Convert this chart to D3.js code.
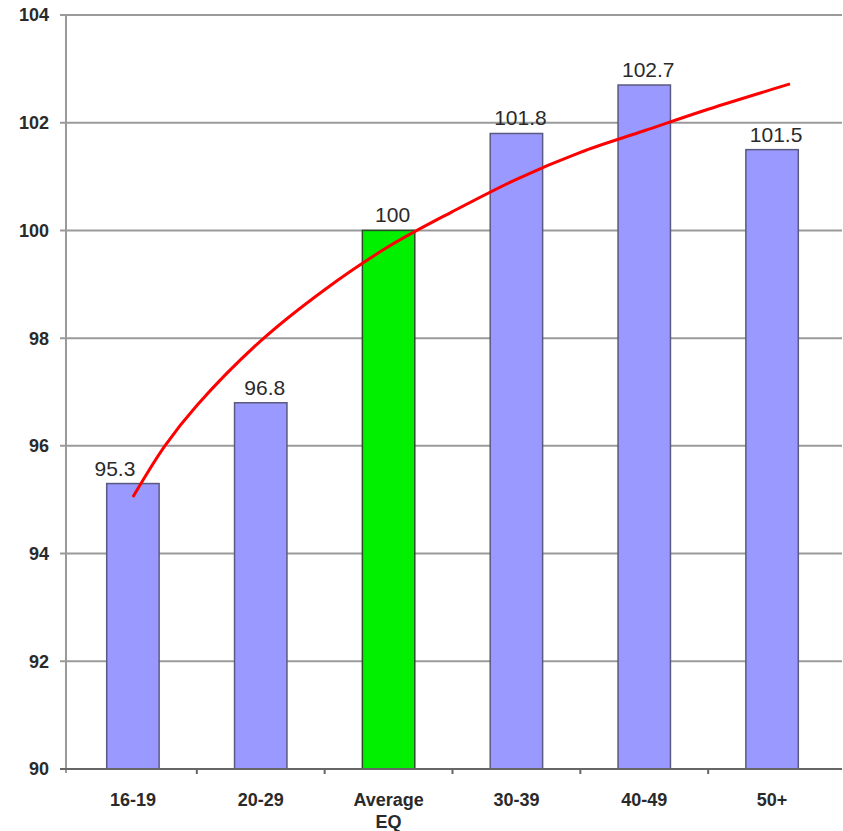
<!DOCTYPE html>
<html>
<head>
<meta charset="UTF-8">
<title>EQ by age</title>
<style>
html, body {
    margin: 0;
    padding: 0;
    background-color: #fff;
}
svg text {
    font-family: "Liberation Sans", Arial, sans-serif;
    fill: #2a2a2a;
}
.grid line {
    stroke: #9a9a9a;
    stroke-width: 2;
}
.yLabel, .xLabel {
    font-weight: bold;
    font-size: 18px;
}
.valueLabel {
    font-size: 21px;
}
.trend {
    fill: none;
    stroke: #ff0000;
    stroke-width: 3;
}
</style>
</head>
<body>
<div class="chart"></div>
<script src="https://cdn.jsdelivr.net/npm/d3@7/dist/d3.min.js"></script>
<script>
// data
let categories = ['16-19', '20-29', 'Average\nEQ', '30-39', '40-49', '50+'];
let values = [95.3, 96.8, 100, 101.8, 102.7, 101.5];
let yTicks = [90, 92, 94, 96, 98, 100, 102, 104];

// red trend curve (position in category steps from the first bar)
let trendPos = [0, 0.25, 0.5, 1, 1.5, 2, 2.5, 3, 3.5, 4, 4.5, 5.14];
let trendVal = [95.05, 96.0, 96.75, 97.95, 98.9, 99.7, 100.35, 100.95, 101.45, 101.85, 102.25, 102.72];

let width = 843, height = 831;
let plotLeft = 66, plotRight = 842, plotTop = 15, plotBottom = 769;

let svg = d3.select('.chart').append('svg')
    .attr('width', width)
    .attr('height', height);

let yScale = d3.scaleLinear()
    .domain([90, 104])
    .range([plotBottom, plotTop]);

let xScale = d3.scaleBand()
    .domain(categories)
    .range([69, 836])
    .paddingInner(0.59)
    .paddingOuter(0.295);

let step = xScale.step();
let center = (c) => xScale(c) + xScale.bandwidth() / 2;

// gridlines
svg.append('g')
    .attr('class', 'grid')
    .selectAll('line')
    .data(yTicks)
    .enter().append('line')
    .attr('x1', plotLeft - 6)
    .attr('x2', plotRight)
    .attr('y1', (d) => yScale(d))
    .attr('y2', (d) => yScale(d));

// y axis line
svg.append('line')
    .attr('x1', plotLeft).attr('x2', plotLeft)
    .attr('y1', plotTop).attr('y2', plotBottom + 4)
    .attr('stroke', '#9a9a9a')
    .attr('stroke-width', 2);

svg.selectAll('.yLabel')
    .data(yTicks)
    .enter().append('text')
    .attr('class', 'yLabel')
    .attr('x', 49)
    .attr('y', (d) => yScale(d))
    .attr('dy', '0.36em')
    .attr('text-anchor', 'end')
    .text((d) => d);

// bars
svg.selectAll('.bar')
    .data(values)
    .enter().append('rect')
    .attr('class', 'bar')
    .attr('x', (d, i) => xScale(categories[i]))
    .attr('width', xScale.bandwidth())
    .attr('y', (d) => yScale(d))
    .attr('height', (d) => yScale(90) - yScale(d))
    .attr('fill', (d, i) => i === 2 ? '#00f000' : '#9999ff')
    .attr('stroke', (d, i) => i === 2 ? '#2a4a2a' : '#5a5a80')
    .attr('stroke-width', 1.5);

// x axis line and ticks
svg.append('line')
    .attr('x1', plotLeft - 6).attr('x2', plotRight)
    .attr('y1', plotBottom).attr('y2', plotBottom)
    .attr('stroke', '#666')
    .attr('stroke-width', 2);

svg.selectAll('.xTick')
    .data(categories.slice(1))
    .enter().append('line')
    .attr('x1', (d) => xScale(d) - step * xScale.paddingInner() / 2)
    .attr('x2', (d) => xScale(d) - step * xScale.paddingInner() / 2)
    .attr('y1', plotBottom)
    .attr('y2', plotBottom + 5)
    .attr('stroke', '#666')
    .attr('stroke-width', 2);

svg.selectAll('.xLabel')
    .data(categories)
    .enter().append('text')
    .attr('class', 'xLabel')
    .attr('text-anchor', 'middle')
    .attr('y', 806)
    .each(function (d) {
        let lines = d.split('\n');
        d3.select(this).selectAll('tspan')
            .data(lines)
            .enter().append('tspan')
            .attr('x', center(d))
            .attr('dy', (l, i) => i === 0 ? 0 : 22)
            .text((l) => l);
    });

// value labels
svg.selectAll('.valueLabel')
    .data(values)
    .enter().append('text')
    .attr('class', 'valueLabel')
    .attr('text-anchor', 'middle')
    .attr('x', (d, i) => center(categories[i]) + (i === 0 ? -18 : 4))
    .attr('y', (d) => yScale(d) - 8)
    .text((d) => d);

// trend curve
let trendData = trendPos.map((p, i) => [p, trendVal[i]]);
let line = d3.line()
    .x((d) => center(categories[0]) + d[0] * step)
    .y((d) => yScale(d[1]))
    .curve(d3.curveCatmullRom.alpha(0.5));

svg.append('path')
    .attr('class', 'trend')
    .attr('d', line(trendData));
</script>
</body>
</html>
